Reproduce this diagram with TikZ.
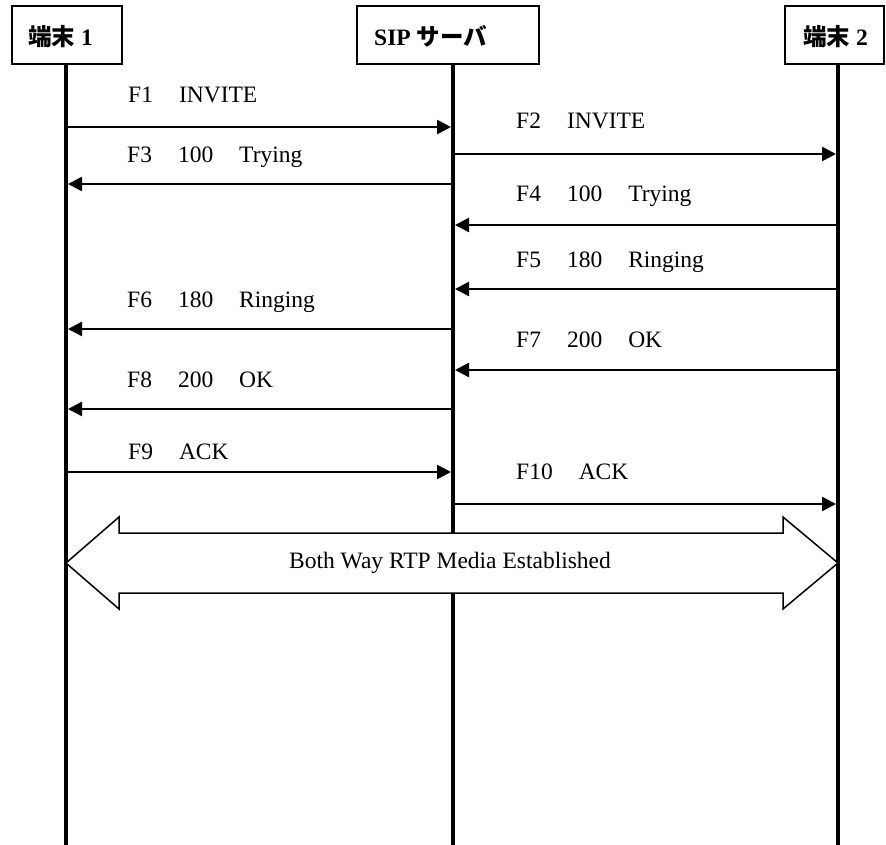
\documentclass[tikz,border=0pt]{standalone}
\usepackage{fontspec}
\setmainfont{Liberation Serif}
\newfontfamily\jp{Noto Sans CJK JP}
\usetikzlibrary{arrows.meta}
\newcommand\msgsp{\hspace{26pt}}
\begin{document}
\begin{tikzpicture}[x=1pt,y=-1pt,
  hdr/.style={draw,line width=1.5pt,minimum height=58pt,inner sep=0pt},
  hdrtxt/.style={anchor=base west,inner sep=0pt,font=\fontsize{23.5}{28}\selectfont\bfseries},
  life/.style={line width=4pt},
  msg/.style={line width=2.6pt,-{Triangle[length=14pt,width=14pt]},shorten >=2pt,shorten <=2pt},
  lbl/.style={anchor=base west,inner sep=0pt,font=\fontsize{23.5}{28}\selectfont},
  big/.style={draw,fill=white,line width=1.5pt,line join=miter}]
\useasboundingbox (0,0) rectangle (886,845);

% header boxes
\node[hdr,minimum width=110pt] (t1) at (67,35) {};
\node[hdr,minimum width=182pt] (srv) at (448,35) {};
\node[hdr,minimum width=99pt] (t2) at (834.5,35) {};
\node[hdrtxt] (t1txt) at (28,46) {{\jp 端末} 1};
\node[hdrtxt] (srvtxt) at (374,46) {SIP {\jp サーバ}};
\node[hdrtxt] (t2txt) at (803,46) {{\jp 端末} 2};

% lifelines
\coordinate (l1top) at (66,64);  \coordinate (l1bot) at (66,845);
\coordinate (lstop) at (453,64); \coordinate (lsbot) at (453,845);
\coordinate (l2top) at (838,64); \coordinate (l2bot) at (838,845);
\draw[life] (l1top) -- (l1bot);
\draw[life] (lstop) -- (lsbot);
\draw[life] (l2top) -- (l2bot);

% message anchor points
\foreach \n/\y in {1/127,2/154,3/184,4/225,5/289,6/329,7/370,8/409,9/472,10/504}{
  \coordinate (a\n) at (66,\y);
  \coordinate (s\n) at (453,\y);
  \coordinate (b\n) at (838,\y);
}

% messages
\draw[msg] (a1) -- (s1);
\node[lbl] (m1) at (128,103) {F1\msgsp INVITE};
\draw[msg] (s2) -- (b2);
\node[lbl] (m2) at (516,129) {F2\msgsp INVITE};
\draw[msg] (s3) -- (a3);
\node[lbl] (m3) at (127,163) {F3\msgsp 100\msgsp Trying};
\draw[msg] (b4) -- (s4);
\node[lbl] (m4) at (516,202) {F4\msgsp 100\msgsp Trying};
\draw[msg] (b5) -- (s5);
\node[lbl] (m5) at (516,267) {F5\msgsp 180\msgsp Ringing};
\draw[msg] (s6) -- (a6);
\node[lbl] (m6) at (127,307) {F6\msgsp 180\msgsp Ringing};
\draw[msg] (b7) -- (s7);
\node[lbl] (m7) at (516,347) {F7\msgsp 200\msgsp OK};
\draw[msg] (s8) -- (a8);
\node[lbl] (m8) at (127,387) {F8\msgsp 200\msgsp OK};
\draw[msg] (a9) -- (s9);
\node[lbl] (m9) at (128,459) {F9\msgsp ACK};
\draw[msg] (s10) -- (b10);
\node[lbl] (m10) at (516,479) {F10\msgsp ACK};

% both-way media arrow
\coordinate (mL) at (66,563);
\coordinate (mR) at (838,563);
\path[big] (mL) -- (119,517) -- (119,533) -- (783,533) -- (783,517) -- (mR)
  -- (783,609) -- (783,593) -- (119,593) -- (119,609) -- cycle;
\node[font=\fontsize{23.5}{28}\selectfont,inner sep=0pt] (media) at (450,563) {Both Way RTP Media Established};
\end{tikzpicture}
\end{document}
